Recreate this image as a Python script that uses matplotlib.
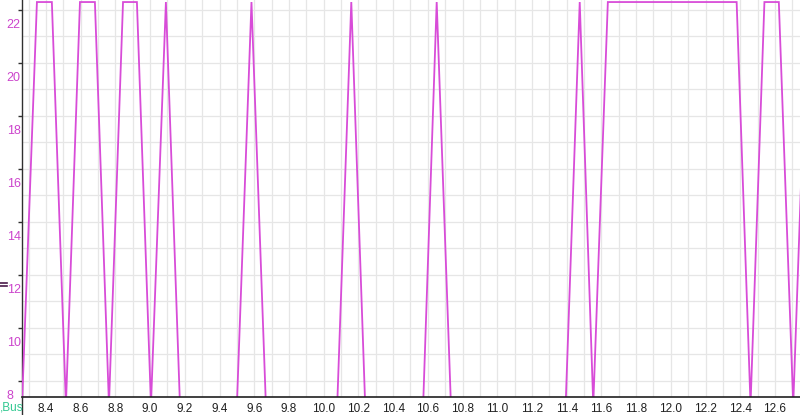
import matplotlib
matplotlib.use("Agg")
import matplotlib.pyplot as plt
from matplotlib.ticker import MultipleLocator, FixedLocator
from matplotlib.transforms import ScaledTranslation
from matplotlib.lines import Line2D

# ---- data ----
HIGH = 22.3
LOW = 7.1
times = [8.262, 8.348, 8.434, 8.515, 8.596, 8.682, 8.763, 8.844, 8.924, 9.005,
         9.091, 9.172, 9.500, 9.584, 9.667, 10.078, 10.159, 10.239, 10.573,
         10.651, 10.733, 11.394, 11.475, 11.553, 11.637, 12.379, 12.459,
         12.539, 12.622, 12.705, 12.787]
levels = ["L", "H", "H", "L", "H", "H", "L", "H", "H", "L",
          "H", "L", "L", "H", "L", "L", "H", "L", "L",
          "H", "L", "L", "H", "L", "H", "H", "L",
          "H", "H", "L", "H"]
values = [HIGH if s == "H" else LOW for s in levels]

x_ticks = [8.4, 8.6, 8.8, 9.0, 9.2, 9.4, 9.6, 9.8, 10.0, 10.2, 10.4, 10.6,
           10.8, 11.0, 11.2, 11.4, 11.6, 11.8, 12.0, 12.2, 12.4, 12.6]
y_ticks = [8, 10, 12, 14, 16, 18, 20, 22]

W, H = 800, 415
fig = plt.figure(figsize=(W / 100, H / 100), dpi=100)
fig.patch.set_facecolor("white")
ax = fig.add_axes([22 / W, 18 / H, 778 / W, 397 / H])
ax.set_facecolor("white")

ax.plot(times, values, color="#d84cd8", lw=1.3, solid_joinstyle="miter", zorder=3)

ax.set_xlim(8.262, 12.744)
ax.set_ylim(7.396, 22.377)

ax.xaxis.set_major_locator(FixedLocator(x_ticks))
ax.xaxis.set_minor_locator(MultipleLocator(0.1))
ax.yaxis.set_major_locator(FixedLocator(y_ticks))
ax.yaxis.set_minor_locator(MultipleLocator(1))
ax.set_xticklabels([f"{v:.1f}" for v in x_ticks])
ax.set_yticklabels([str(v) for v in y_ticks])

ax.grid(True, which="both", color="#e6e6e6", lw=0.9, zorder=0)
ax.set_axisbelow(True)

for s in ("top", "right"):
    ax.spines[s].set_visible(False)
ax.spines["left"].set_color("#303030")
ax.spines["bottom"].set_color("#202020")
ax.spines["left"].set_linewidth(1.0)
ax.spines["bottom"].set_linewidth(1.2)
ax.spines["bottom"].set_zorder(4)

ax.tick_params(axis="x", which="both", length=0, pad=4, labelsize=8.5,
               labelcolor="#202020")
ax.tick_params(axis="x", which="minor", length=0)
ax.tick_params(axis="y", which="major", length=3, width=1, color="#303030",
               pad=8, labelsize=9, labelcolor="#cc44cc")
ax.tick_params(axis="y", which="minor", length=0)

offset = ScaledTranslation(0, -0.14, fig.dpi_scale_trans)
for lab in ax.get_yticklabels():
    lab.set_fontfamily("Liberation Sans")
    lab.set_horizontalalignment("left")
    lab.set_transform(lab.get_transform() + offset)
for lab in ax.get_xticklabels():
    lab.set_fontfamily("Liberation Sans")

# left spine continues below the x axis
fig.add_artist(Line2D([22 / W, 22 / W], [0, 18 / H], color="#303030", lw=1.0,
                      transform=fig.transFigure))
# small marker on the left edge
for yy in (283, 286):
    fig.add_artist(Line2D([0, 7 / W], [1 - yy / H, 1 - yy / H], color="#4a1a4a",
                          lw=1.2, transform=fig.transFigure))
fig.text(0 / W, 1 - 407 / H, ",Bus", color="#30c890", fontsize=8.5,
         family="Liberation Sans", va="center", ha="left")

fig.savefig("out.png", dpi=100)
